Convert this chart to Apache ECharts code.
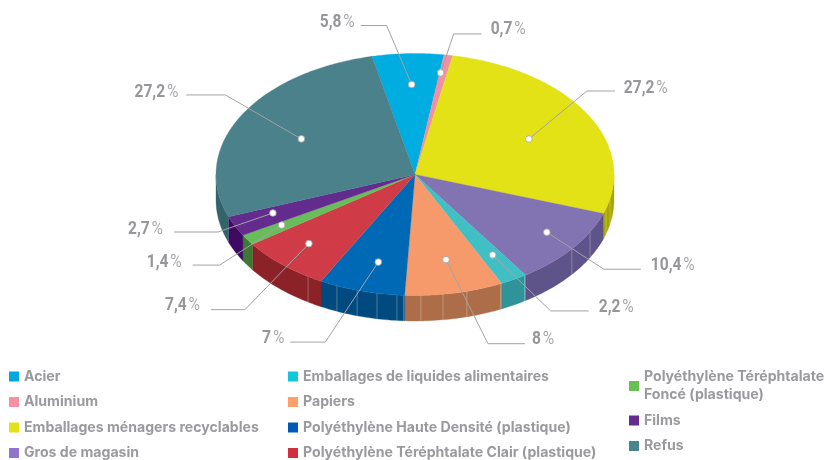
<!DOCTYPE html>
<html>
<head>
<meta charset="utf-8">
<style>html,body{margin:0;padding:0;background:#fff}#main{width:824px;height:460px}</style>
<script src="https://cdn.jsdelivr.net/npm/echarts@6/dist/echarts.min.js"></script>
</head>
<body>
<div id="main"></div>
<script>
var categories = ['Acier', 'Aluminium', 'Emballages ménagers recyclables', 'Gros de magasin',
  'Emballages de liquides alimentaires', 'Papiers', 'Polyéthylène Haute Densité (plastique)',
  'Polyéthylène Téréphtalate Clair (plastique)', 'Polyéthylène Téréphtalate Foncé (plastique)', 'Films', 'Refus'];
var shares = [5.8, 0.7, 27.2, 10.4, 2.2, 8, 7, 7.4, 1.4, 2.7, 27.2];

var topColors = ['#00ade0', '#f18fa3', '#e2e216', '#8273b3', '#40bfc5', '#f79a6b', '#0069b5', '#cf3c47', '#68bd5a', '#642b8f', '#4a818b'];
var sideColors = ['#007a9e', '#a8606f', '#a9a500', '#5e5489', '#2f9399', '#ad6d48', '#004a80', '#8a2227', '#3c7a33', '#3f0a63', '#33636b'];
var legendColors = ['#00a8dc', '#f98fa5', '#e2e216', '#9073cc', '#10c8d8', '#ffa06a', '#0058b8', '#cf3040', '#68c050', '#642b90', '#48858f'];

// pie geometry
var cx = 415, cy = 174.5, rx = 199, ry = 121, depth = 25.5, startDeg = -12.5;
// where the dot of each leader sits, as a fraction of the radius, plus a small nudge
var dotFractions = [0.744, 0.86, 0.65, 0.81, 0.766, 0.71, 0.743, 0.774, 0.79, 0.784, 0.65];
var dotNudges = [[2, 0], [-3, 1], [2, 4], [4, -2], [2, 0], [3, 1], [3, 1], [-4, -1], [-1, -1], [-1, -2], [0, 2]];
// elbow offset from the dot, then length of the flat run (negative goes left)
var leaderBends = [[-25, -59, -26], [13, -39, 28], [58, -48, 28], [57, 37, 37], [58, 56, 38], [42, 84, 37],
  [-53, 80, -35], [-64, 66, -34], [-62, 40, -27], [-55, 19, -44], [-76, -44, -39]];
// label offset from the end of the flat run
var labelShifts = [[-6, -3], [9, -5], [9, -3], [10, -4], [10, -4], [7, -4], [-6, -4], [-11, -4], [-11, -3], [-11, -3], [-8, -3]];
var seamDegrees = [212.5, 203.1, 196.9, 191, 185.2, 183.3, 178.3, 171.9, 164.9, 154.5, 146.6, 128, 118.4, 106.3, 101.5];

var legendColumns = [
  { left: 9, top: 367.5, gap: 7.5, names: categories.slice(0, 4) },
  { left: 288, top: 367.5, gap: 7.5, names: categories.slice(4, 8) },
  { left: 629, top: 368, gap: 7.5, names: categories.slice(8) }
];

var rad = Math.PI / 180;
function pt(deg, f, drop) {
  return [cx + rx * f * Math.sin(deg * rad), cy - ry * f * Math.cos(deg * rad) + (drop || 0)];
}
function arc(a, b, drop) {
  var pts = [];
  var n = Math.max(2, Math.ceil(Math.abs(b - a)));
  for (var i = 0; i <= n; i++) pts.push(pt(a + (b - a) * i / n, 1, drop));
  return pts;
}

var bounds = [];
var sum = 0;
shares.forEach(function (v) {
  var a = startDeg + sum * 3.6;
  sum += v;
  bounds.push([a, startDeg + sum * 3.6]);
});

var series = [];

// rim of the front half, under the top faces
series.push({
  type: 'custom', name: 'rim', coordinateSystem: 'none', silent: true, z: 2, animation: false,
  data: shares.map(function (v, i) { return [i]; }),
  renderItem: function (params, api) {
    var i = api.value(0);
    var a = Math.max(bounds[i][0], 90), b = Math.min(bounds[i][1], 270);
    if (b <= a) return { type: 'group', children: [] };
    var pts = arc(a, b, 0).concat(arc(b, a, depth));
    var kids = [{ type: 'polygon', shape: { points: pts }, style: { fill: sideColors[i], stroke: sideColors[i], lineWidth: 0.3 } }];
    seamDegrees.forEach(function (s) {
      if (s >= a && s < b) {
        kids.push({ type: 'line', z2: 5, shape: { x1: pt(s, 1)[0], y1: pt(s, 1)[1], x2: pt(s, 1)[0], y2: pt(s, 1, depth)[1] },
          style: { stroke: 'rgba(255,255,255,0.28)', lineWidth: 1 } });
      }
    });
    return { type: 'group', children: kids };
  }
});

// top faces, one series per category so the legend picks them up
categories.forEach(function (name, i) {
  series.push({
    type: 'custom', name: name, coordinateSystem: 'none', silent: true, z: 3, animation: false,
    data: [[bounds[i][0], bounds[i][1]]],
    itemStyle: { color: legendColors[i] },
    renderItem: function (params, api) {
      var pts = [[cx, cy]].concat(arc(api.value(0), api.value(1), 0));
      return { type: 'polygon', shape: { points: pts }, style: { fill: topColors[i], stroke: topColors[i], lineWidth: 0.3 } };
    }
  });
});

// leader lines, dots and percent labels
series.push({
  type: 'custom', name: 'leaders', coordinateSystem: 'none', silent: true, z: 4, animation: false,
  data: shares.map(function (v, i) { return [i, v]; }),
  renderItem: function (params, api) {
    var i = api.value(0);
    var bend = leaderBends[i];
    var dot = pt((bounds[i][0] + bounds[i][1]) / 2, dotFractions[i]);
    dot = [dot[0] + dotNudges[i][0], dot[1] + dotNudges[i][1]];
    var elbow = [dot[0] + bend[0], dot[1] + bend[1]];
    var end = [elbow[0] + bend[2], elbow[1]];
    var toRight = bend[2] > 0;
    return {
      type: 'group',
      children: [
        { type: 'polyline', shape: { points: [dot, elbow, end] }, style: { stroke: '#a3a3a3', lineWidth: 1, fill: null } },
        { type: 'circle', shape: { cx: dot[0], cy: dot[1], r: 3.3 }, style: { fill: '#fff', stroke: '#a3a3a3', lineWidth: 0.8 } },
        { type: 'text', x: end[0] + labelShifts[i][0], y: end[1] + labelShifts[i][1], scaleX: 0.82,
          style: {
            text: '{v|' + String(api.value(1)).replace('.', ',') + '}{s| }{p|%}',
            align: toRight ? 'left' : 'right', verticalAlign: 'middle',
            rich: {
              v: { fontFamily: 'Roboto', fontWeight: 'bold', fontSize: 19, fill: '#97979b' },
              s: { fontFamily: 'Roboto', fontSize: 9 },
              p: { fontFamily: 'Roboto', fontWeight: 'normal', fontSize: 19, fill: '#a8a8ac' }
            }
        } }
      ]
    };
  }
});

var legends = legendColumns.map(function (col) {
  return {
    orient: 'vertical', left: col.left, top: col.top, height: 200, padding: 0, itemGap: col.gap,
    itemWidth: 10, itemHeight: 10, icon: 'rect', selectedMode: false,
    textStyle: { color: '#9a9a9e', fontFamily: 'Inter', fontWeight: 700, fontSize: 14.1, lineHeight: 18 },
    formatter: function (name) { return name.replace(' Foncé', '\nFoncé'); },
    data: col.names.map(function (n) {
      return { name: n, itemStyle: { color: legendColors[categories.indexOf(n)] } };
    })
  };
});

var chart = echarts.init(document.getElementById('main'), null, { renderer: 'canvas' });
chart.setOption({ animation: false, backgroundColor: '#fff', legend: legends, series: series });
</script>
</body>
</html>
